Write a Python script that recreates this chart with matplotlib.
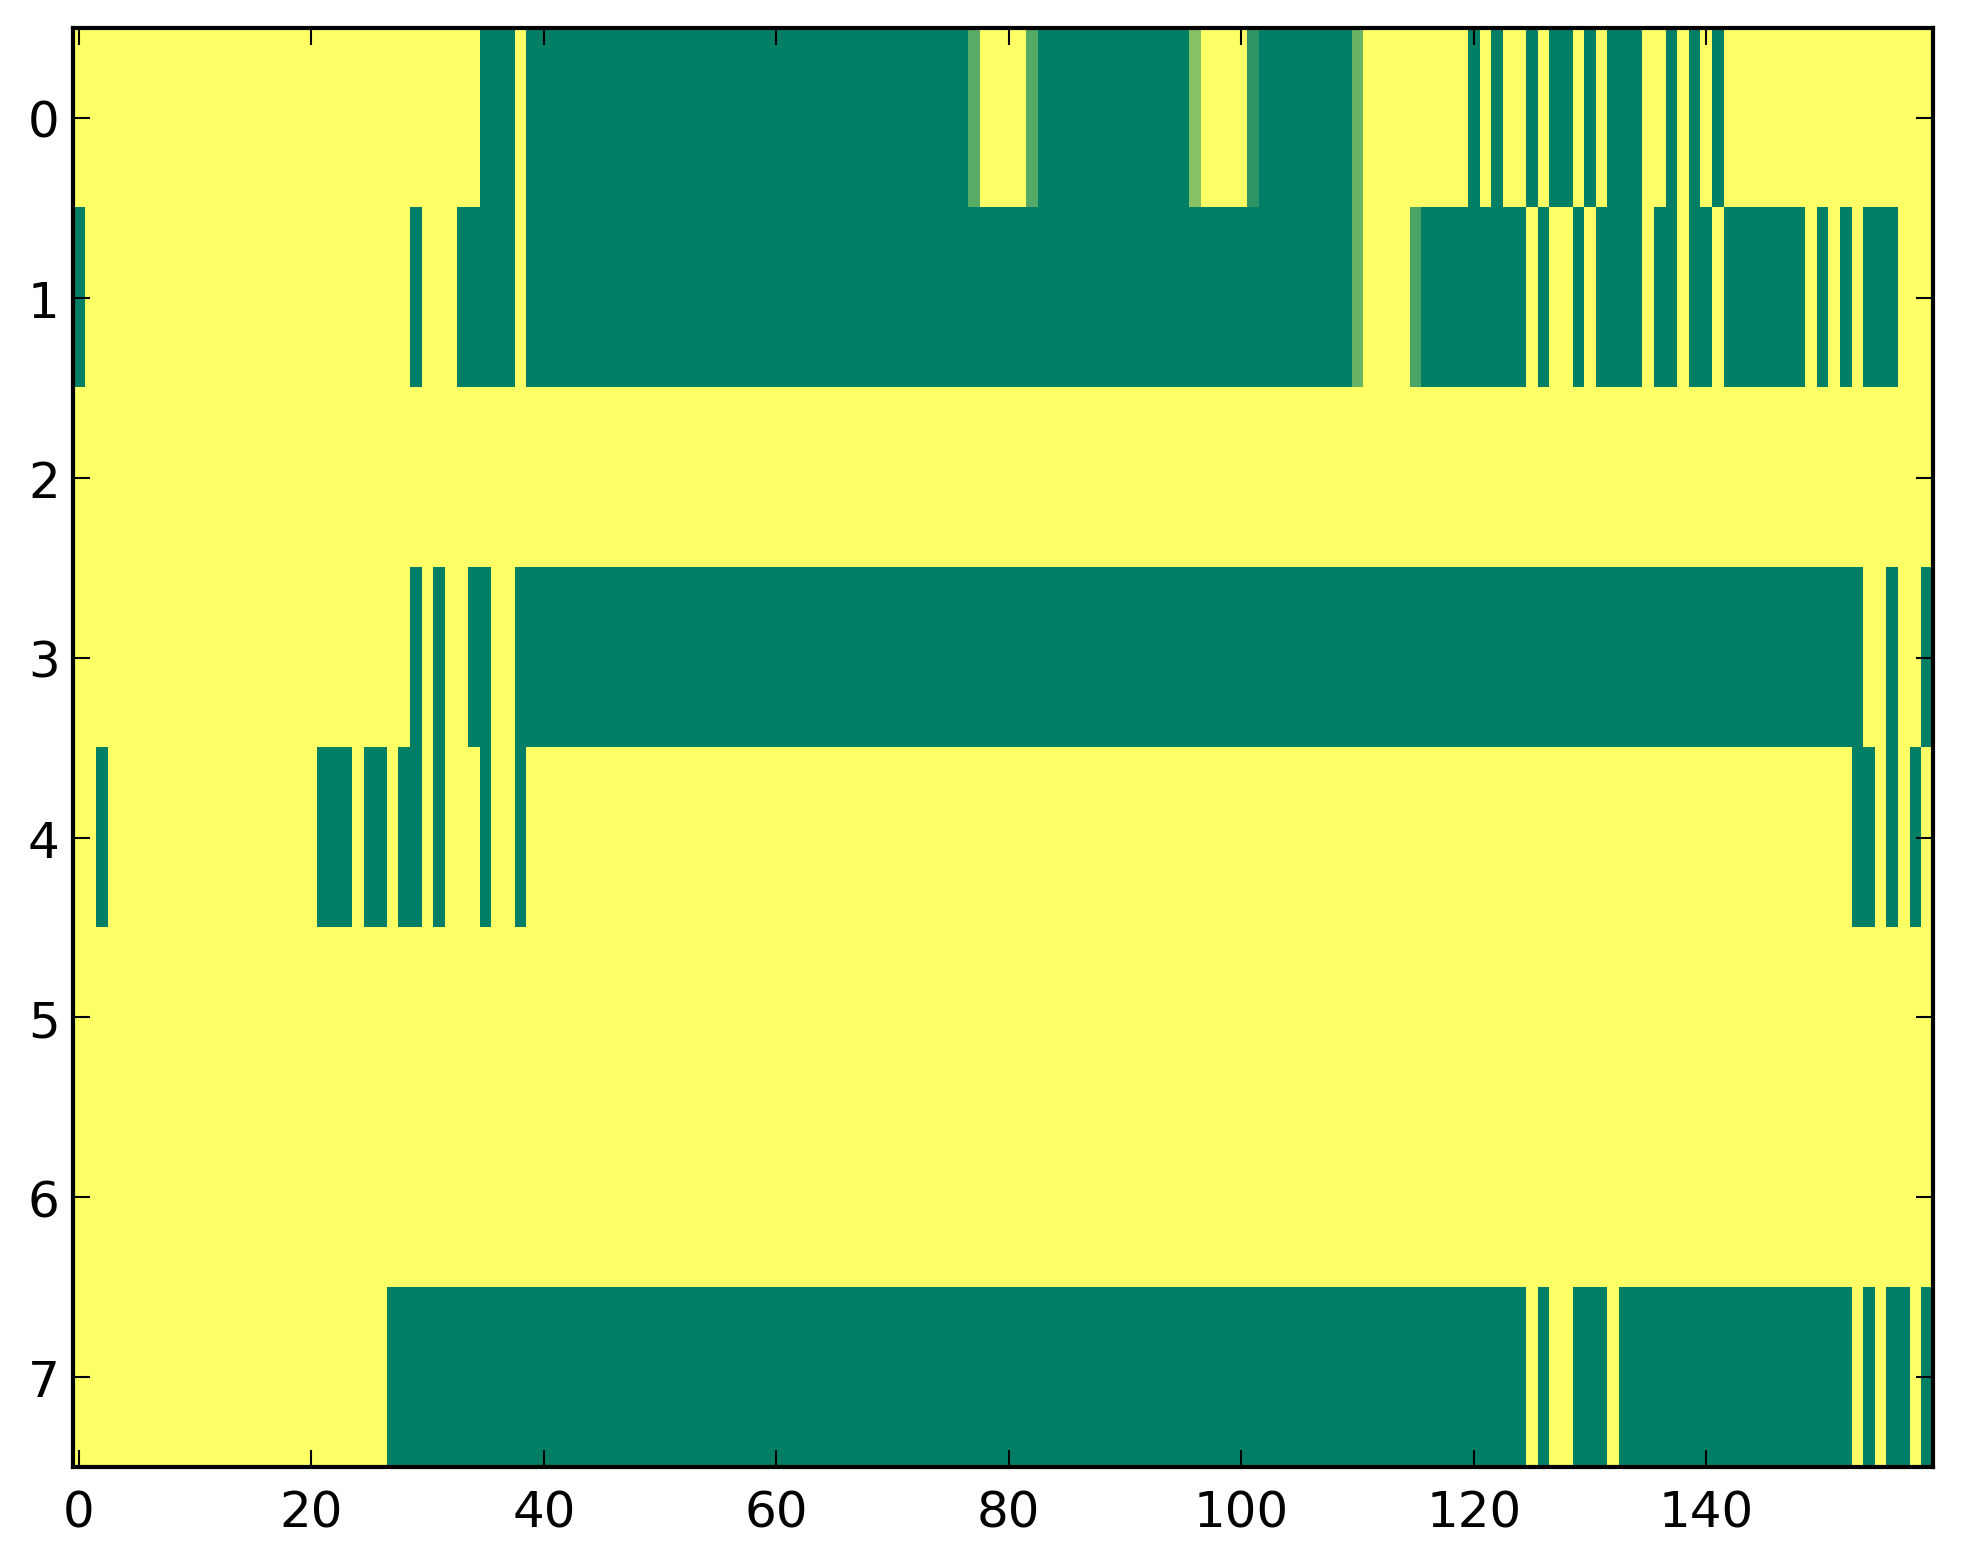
import numpy as np
import matplotlib
matplotlib.use("Agg")
import matplotlib.pyplot as plt

# each row given as (value, run length) pairs, 160 columns per row
row0 = [(1, 35), (0, 3), (1, 1), (0, 38), (0.35, 1), (1, 4), (0.33, 1), (0, 13),
        (0.53, 1), (1, 4), (0.18, 1), (0, 8), (0.41, 1), (1, 9),
        (0, 1), (1, 1), (0, 1), (1, 2), (0, 1), (1, 1), (0, 2), (1, 1), (0, 1),
        (1, 1), (0, 3), (1, 2), (0, 1), (1, 1), (0, 1), (1, 1), (0, 1), (1, 18)]
row1 = [(0, 1), (1, 28), (0, 1), (1, 3), (0, 5), (1, 1), (0, 71), (0.41, 1),
        (1, 4), (0.29, 1), (0, 9), (1, 1), (0, 1), (1, 2), (0, 1), (1, 1), (0, 4),
        (1, 1), (0, 2), (1, 1), (0, 2), (1, 1), (0, 7), (1, 1), (0, 1), (1, 1),
        (0, 1), (1, 1), (0, 3), (1, 3)]
row2 = [(1, 160)]
row3 = [(1, 29), (0, 1), (1, 1), (0, 1), (1, 2), (0, 2), (1, 2), (0, 116),
        (1, 2), (0, 1), (1, 2), (0, 1)]
row4 = [(1, 2), (0, 1), (1, 18), (0, 3), (1, 1), (0, 2), (1, 1), (0, 2), (1, 1),
        (0, 1), (1, 3), (0, 1), (1, 2), (0, 1), (1, 114), (0, 2), (1, 1), (0, 1),
        (1, 1), (0, 1), (1, 1)]
row5 = [(1, 160)]
row6 = [(1, 160)]
row7 = [(1, 27), (0, 98), (1, 1), (0, 1), (1, 2), (0, 3), (1, 1), (0, 20),
        (1, 1), (0, 1), (1, 1), (0, 2), (1, 1), (0, 1)]

rows = [row0, row1, row2, row3, row4, row5, row6, row7]
xticks = [0, 20, 40, 60, 80, 100, 120, 140]
yticks = [0, 1, 2, 3, 4, 5, 6, 7]


def expand(runs):
    vals = [v for v, n in runs]
    counts = [n for v, n in runs]
    return np.repeat(vals, counts)


grid = np.vstack([expand(r) for r in rows])

plt.rcParams['font.family'] = ['DejaVu Sans']
fig = plt.figure(figsize=(1963 / 300, 1564 / 300), dpi=300)
ax = fig.add_axes([0.0372, 0.0611, 0.9475, 0.9206])
ax.imshow(grid, cmap='summer', interpolation='nearest', aspect='auto',
          vmin=0, vmax=1)

ax.set_xticks(xticks)
ax.set_yticks(yticks)
ax.tick_params(direction='in', top=True, right=True, length=4, width=0.5,
               labelsize=12)
ax.tick_params(axis='x', pad=5)
ax.tick_params(axis='y', pad=3.2)
for s in ax.spines.values():
    s.set_linewidth(1.0)

fig.savefig('out.png', dpi=300)
